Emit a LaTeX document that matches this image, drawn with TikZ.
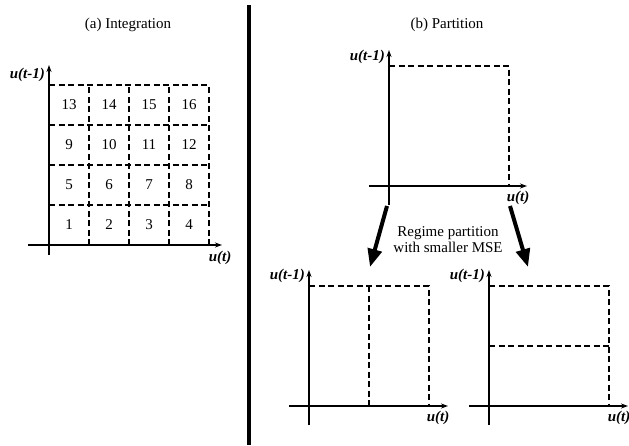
\documentclass[tikz,border=0pt]{standalone}
\usepackage{fontspec}
\setmainfont{Liberation Serif}
\usetikzlibrary{arrows.meta}
\begin{document}
\begin{tikzpicture}[x=1pt,y=-1pt,
  axis/.style={line width=1.4pt,-{Stealth[length=7pt,width=5pt]}},
  grid/.style={line width=1.1pt,dash pattern=on 6pt off 3.5pt},
  txt/.style={font=\fontsize{15}{17}\selectfont,inner sep=0pt},
  lab/.style={font=\fontsize{15}{17}\selectfont\bfseries\itshape,inner sep=0pt},
  bigarrow/.style={line width=4pt,-{Triangle[length=18pt,width=14pt]}}]
\useasboundingbox (0,0) rectangle (629,445);
% divider
\coordinate (d1) at (249,5);
\coordinate (d2) at (249,445);
\draw[line width=3.5pt] (d1) -- (d2);
% titles
\node[txt] (ta) at (128,25) {(a) Integration};
\node[txt] (tb) at (447,25) {(b) Partition};
% ---------- panel (a)
\coordinate (ay0) at (49,255); \coordinate (ay1) at (49,65);
\coordinate (ax0) at (28,245); \coordinate (ax1) at (222,245);
\foreach \i in {1,...,4}{
  \draw[grid] (49+40*\i,245) -- (49+40*\i,85);
}
\foreach \j in {0,...,3}{
  \draw[grid] (49,85+40*\j) -- (209,85+40*\j);
}
\foreach \r in {0,...,3}{
  \foreach \c in {0,...,3}{
    \pgfmathtruncatemacro{\n}{4*\r+\c+1}
    \node[txt] (n\n) at (69+40*\c,225-40*\r) {\n};
  }
}
\draw[axis] (ay0) -- (ay1);
\draw[axis] (ax0) -- (ax1);
\node[lab,anchor=east] (la1) at (45,75) {u(t-1)};
\node[lab] (la2) at (220,258) {u(t)};
% ---------- panel (b) top
\coordinate (by0) at (389,205); \coordinate (by1) at (389,50);
\coordinate (bx0) at (369,186); \coordinate (bx1) at (527,186);
\draw[grid] (389,66) -- (509,66) -- (509,186);
\draw[axis] (by0) -- (by1);
\draw[axis] (bx0) -- (bx1);
\node[lab,anchor=east] (lb1) at (385,57) {u(t-1)};
\node[lab] (lb2) at (518,198) {u(t)};
% arrows
\coordinate (a1s) at (387,206); \coordinate (a1e) at (370,267);
\coordinate (a2s) at (510,206); \coordinate (a2e) at (528,267);
\draw[bigarrow] (a1s) -- (a1e);
\draw[bigarrow] (a2s) -- (a2e);
\node[txt,align=center,font=\fontsize{15}{16}\selectfont] (rp) at (448,240) {Regime partition\\with smaller MSE};
% ---------- panel (b) bottom left
\coordinate (cy0) at (309,425); \coordinate (cy1) at (309,270);
\coordinate (cx0) at (289,406); \coordinate (cx1) at (448,406);
\draw[grid] (309,286) -- (429,286) -- (429,406);
\draw[grid] (369,286) -- (369,406);
\draw[axis] (cy0) -- (cy1);
\draw[axis] (cx0) -- (cx1);
\node[lab,anchor=east] (lc1) at (305,276) {u(t-1)};
\node[lab] (lc2) at (438,418) {u(t)};
% ---------- panel (b) bottom right
\coordinate (ey0) at (489,425); \coordinate (ey1) at (489,270);
\coordinate (ex0) at (469,406); \coordinate (ex1) at (628,406);
\draw[grid] (489,286) -- (609,286) -- (609,406);
\draw[grid] (489,346) -- (609,346);
\draw[axis] (ey0) -- (ey1);
\draw[axis] (ex0) -- (ex1);
\node[lab,anchor=east] (le1) at (485,276) {u(t-1)};
\node[lab] (le2) at (619,418) {u(t)};
\end{tikzpicture}
\end{document}
